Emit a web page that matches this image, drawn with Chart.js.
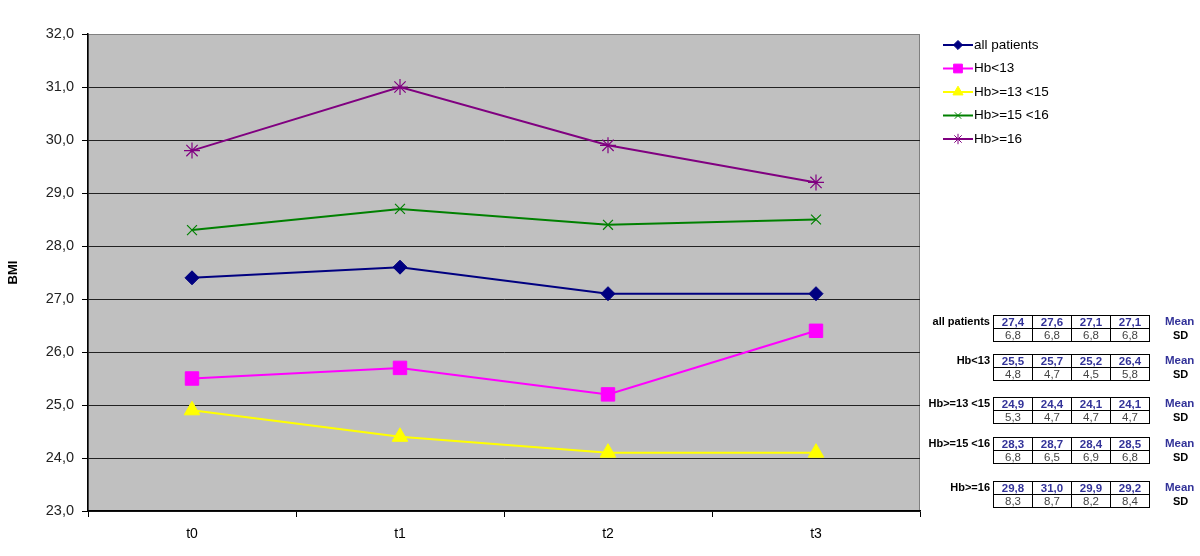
<!DOCTYPE html>
<html><head><meta charset="utf-8">
<script src="https://cdn.jsdelivr.net/npm/chart.js@4/dist/chart.umd.min.js"></script>
<style>
html,body{margin:0;padding:0;background:#fff;}
#wrap{position:relative;width:1200px;height:556px;font-family:"Liberation Sans",Arial,sans-serif;}
canvas{position:absolute;left:0;top:0;}
table.st{position:absolute;left:993px;border-collapse:collapse;font-size:11.5px;}
table.st td{border:1px solid #000;width:38px;height:12px;padding:0;text-align:center;line-height:12px;}
table.st td.m{color:#333399;font-weight:bold;}
table.st td.s{color:#444;}
.lab{position:absolute;right:210px;font-size:11px;font-weight:bold;color:#000;text-align:right;white-space:nowrap;}
.mean{position:absolute;left:1165px;font-size:11.5px;font-weight:bold;color:#333399;}
.sd{position:absolute;left:1173px;font-size:11px;font-weight:bold;color:#000;}
</style></head>
<body><div id="wrap"><canvas id="c" width="1200" height="556"></canvas></div>
<script>
const categories = ["t0","t1","t2","t3"];
const seriesNames = ["all patients","Hb<13","Hb>=13 <15","Hb>=15 <16","Hb>=16"];
const allPatients = [27.4, 27.6, 27.1, 27.1];
const hbLt13 = [25.5, 25.7, 25.2, 26.4];
const hb13to15 = [24.9, 24.4, 24.1, 24.1];
const hb15to16 = [28.3, 28.7, 28.4, 28.5];
const hbGe16 = [29.8, 31.0, 29.9, 29.2];
const sdAll = [6.8, 6.8, 6.8, 6.8];
const sdLt13 = [4.8, 4.7, 4.5, 5.8];
const sd13to15 = [5.3, 4.7, 4.7, 4.7];
const sd15to16 = [6.8, 6.5, 6.9, 6.8];
const sdGe16 = [8.3, 8.7, 8.2, 8.4];
const yMin = 23, yMax = 32;

const colors = ["#000080","#FF00FF","#FFFF00","#008000","#800080"];
const styles = ["rectRot","rect","triangle","crossRot","star"];
const radii = [7,9.5,9,7,8];
const means = [allPatients,hbLt13,hb13to15,hb15to16,hbGe16];
const sds = [sdAll,sdLt13,sd13to15,sd15to16,sdGe16];
const fmt = v => v.toFixed(1).replace('.', ',');

const wrap = document.getElementById('wrap');
const tableTops = [315, 354, 397, 437, 481];
means.forEach((m, i) => {
  const t = document.createElement('table'); t.className = 'st'; t.style.top = tableTops[i] + 'px';
  t.innerHTML = '<tr>' + m.map(v => '<td class="m">' + fmt(v) + '</td>').join('') + '</tr>' +
                '<tr>' + sds[i].map(v => '<td class="s">' + fmt(v) + '</td>').join('') + '</tr>';
  wrap.appendChild(t);
  const l = document.createElement('div'); l.className = 'lab'; l.style.top = tableTops[i] + 'px'; l.textContent = seriesNames[i]; wrap.appendChild(l);
  const mn = document.createElement('div'); mn.className = 'mean'; mn.style.top = tableTops[i] + 'px'; mn.textContent = 'Mean'; wrap.appendChild(mn);
  const sd = document.createElement('div'); sd.className = 'sd'; sd.style.top = (tableTops[i] + 14) + 'px'; sd.textContent = 'SD'; wrap.appendChild(sd);
});

const bgPlugin = {
  id: 'bg',
  beforeDraw(chart) {
    const {ctx, chartArea: a} = chart;
    ctx.save();
    ctx.fillStyle = '#C0C0C0';
    ctx.fillRect(a.left, a.top, a.right - a.left, a.bottom - a.top);
    ctx.strokeStyle = '#808080'; ctx.lineWidth = 1;
    ctx.strokeRect(a.left + 0.5, a.top + 0.5, a.right - a.left - 1, a.bottom - a.top);
    ctx.restore();
  },
  afterDraw(chart) {
    const ctx = chart.ctx;
    ctx.save();
    const x0 = 943, y0 = 45, dy = 23.5;
    chart.data.datasets.forEach((ds, i) => {
      const y = y0 + i * dy;
      ctx.strokeStyle = ds.borderColor; ctx.lineWidth = 2;
      ctx.beginPath(); ctx.moveTo(x0, y); ctx.lineTo(x0 + 30, y); ctx.stroke();
      ctx.fillStyle = ds.backgroundColor; ctx.strokeStyle = ds.borderColor; ctx.lineWidth = 1;
      if (Chart.helpers && Chart.helpers.drawPoint) {
        Chart.helpers.drawPoint(ctx, {pointStyle: ds.pointStyle, radius: ds.pointRadius * 0.65, borderWidth: 1, rotation: 0}, x0 + 15, y);
      }
      ctx.fillStyle = '#000'; ctx.font = '13.5px "Liberation Sans", Arial, sans-serif';
      ctx.textBaseline = 'middle'; ctx.textAlign = 'left';
      ctx.fillText(ds.label, x0 + 31, y);
    });
    ctx.restore();
  }
};

new Chart(document.getElementById('c'), {
  type: 'line',
  data: {
    labels: categories,
    datasets: means.map((m, i) => ({
      label: seriesNames[i], data: m,
      borderColor: colors[i], backgroundColor: colors[i],
      pointBorderColor: colors[i], pointBackgroundColor: colors[i],
      borderWidth: 2, pointStyle: styles[i], pointRadius: radii[i],
      pointBorderWidth: (i >= 3 ? 1.2 : 1), tension: 0
    }))
  },
  options: {
    responsive: false, animation: false, devicePixelRatio: 1,
    layout: { padding: { left: 0, top: 34, right: 280, bottom: 0 } },
    plugins: { legend: { display: false }, tooltip: { enabled: false } },
    scales: {
      x: {
        offset: true,
        grid: { offset: true, drawOnChartArea: false, drawTicks: true, tickLength: 6, color: '#000' },
        border: { display: true, color: '#000', width: 1.5 },
        ticks: { color: '#000', padding: 9, font: { size: 14, family: '"Liberation Sans", Arial, sans-serif' } },
        afterFit(s) { s.height = 45; }
      },
      y: {
        min: yMin, max: yMax,
        ticks: { stepSize: 1, color: '#222', padding: 8, callback: v => fmt(v), font: { size: 14.5, family: '"Liberation Sans", Arial, sans-serif' } },
        grid: { color: ctx => (ctx.tick && ctx.tick.value === yMax) ? '#808080' : '#222', tickColor: '#000', tickLength: 6, lineWidth: 1 },
        border: { display: true, color: '#000', width: 1.5 },
        title: { display: true, text: 'BMI', color: '#000', padding: { top: 6, bottom: 4 }, font: { size: 13, weight: 'bold', family: '"Liberation Sans", Arial, sans-serif' } },
        afterFit(s) { s.width = 88; }
      }
    }
  },
  plugins: [bgPlugin]
});
</script></body></html>
